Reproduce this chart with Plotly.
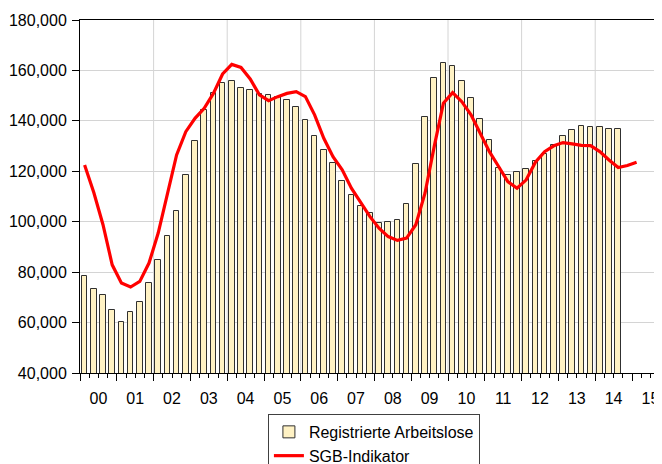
import plotly.graph_objects as go

# quarterly data, 2000Q1 .. 2014Q3 (bars) and 2000Q1 .. 2015Q1 (indicator)
years = ["00", "01", "02", "03", "04", "05", "06", "07", "08", "09", "10", "11", "12", "13", "14", "15"]

arbeitslose = [
    78300, 73500, 70800, 65000,    # 2000
    60300, 64000, 68300, 75800,    # 2001
    84800, 94400, 104300, 118700,  # 2002
    131900, 144200, 151200, 154900,  # 2003
    155700, 153200, 152100, 150800,  # 2004
    150200, 149500, 148400, 145300,  # 2005
    140200, 133900, 128600, 123100,  # 2006
    116300, 110500, 106400, 103400,  # 2007
    99400, 100000, 100500, 107200,   # 2008
    122800, 141600, 157000, 163000,  # 2009
    161900, 156000, 149000, 140900,  # 2010
    132300, 121200, 118700, 119600,  # 2011
    120800, 124000, 126900, 130300,  # 2012
    133800, 136500, 138100, 137700,  # 2013
    137700, 136700, 136700,          # 2014
]

sgb_indikator = [
    122500, 111600, 98800, 82900,
    75700, 74100, 76300, 83600,
    95500, 111300, 126500, 135700,
    141000, 145000, 150900, 158600,
    162400, 161200, 156600, 150300,
    148000, 149600, 150900, 151600,
    149600, 142400, 133100, 125800,
    120600, 113300, 107400, 102100,
    97400, 94100, 92600, 93500,
    98800, 111300, 129800, 147000,
    151200, 147600, 142400, 135100,
    127800, 121900, 115900, 113300,
    116600, 123600, 127800, 130100,
    131400, 130900, 130300, 130200,
    127800, 124500, 121500, 122300,
    123600,
]

font_family = "Liberation Sans, Arial, sans-serif"
q_bars = list(range(len(arbeitslose)))
q_line = list(range(len(sgb_indikator)))
x_range = [-0.5, 62.76]

fig = go.Figure()

fig.add_trace(go.Bar(
    x=q_bars,
    y=arbeitslose,
    width=0.62,
    marker=dict(color="#FFF2C4", line=dict(color="#303030", width=1)),
    name="Registrierte Arbeitslose",
    xaxis="x",
))

fig.add_trace(go.Scatter(
    x=q_line,
    y=sgb_indikator,
    mode="lines",
    line=dict(color="#FF0000", width=3.2),
    name="SGB-Indikator",
    xaxis="x2",
))

# vertical grid every second year
for k in range(2, len(years) - 1, 2):
    fig.add_shape(
        type="line", xref="x", yref="paper",
        x0=4 * k - 0.5, x1=4 * k - 0.5, y0=0, y1=1,
        line=dict(color="#D4D4D4", width=1),
        layer="below",
    )

# page body has an 8px margin, so the figure is 8px smaller than the window
fig.update_layout(
    width=654,
    height=456,
    margin=dict(l=72, r=0, t=12, b=91, autoexpand=False),
    paper_bgcolor="white",
    plot_bgcolor="white",
    font=dict(family=font_family, size=16, color="black"),
    bargap=0,
    showlegend=True,
    xaxis=dict(
        range=x_range,
        tickvals=[4 * k - 0.5 for k in range(len(years) + 1)],
        showticklabels=False,
        ticks="outside",
        ticklen=7,
        tickcolor="black",
        showgrid=False,
        zeroline=False,
        showline=True,
        linecolor="black",
        linewidth=1,
        mirror=True,
        minor=dict(tick0=-0.5, dtick=1, ticks="outside", ticklen=4, tickcolor="black", showgrid=False),
    ),
    xaxis2=dict(
        overlaying="x",
        anchor="y",
        side="bottom",
        range=x_range,
        tickvals=[4 * k + 1.5 for k in range(len(years))],
        ticktext=years,
        ticks="",
        ticklabelstandoff=14,
        showgrid=False,
        zeroline=False,
        showline=False,
    ),
    yaxis=dict(
        range=[40000, 180000],
        tick0=40000,
        dtick=20000,
        tickformat=",.0f",
        ticks="outside",
        ticklen=7,
        tickcolor="black",
        ticklabelstandoff=2,
        showgrid=True,
        gridcolor="#D4D4D4",
        gridwidth=1,
        zeroline=False,
        showline=True,
        linecolor="black",
        linewidth=1,
    ),
    legend=dict(
        x=0.505,
        xanchor="center",
        y=-0.116,
        yanchor="top",
        bgcolor="white",
        bordercolor="#404040",
        borderwidth=1,
        font=dict(family=font_family, size=16, color="black"),
        tracegroupgap=0,
    ),
)

fig.write_html("out.html")
